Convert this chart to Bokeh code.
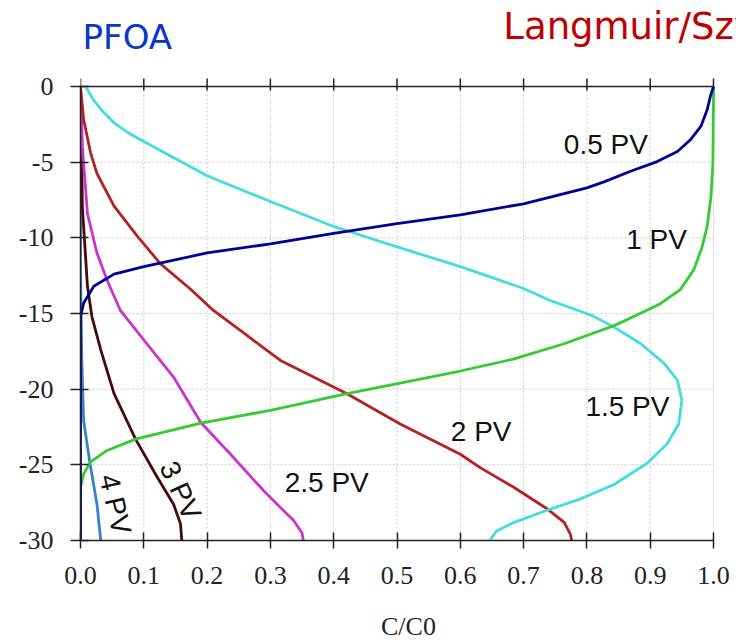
import math
from bokeh.plotting import figure
from bokeh.models import Range1d, FixedTicker, PrintfTickFormatter
from bokeh.core.properties import value
from bokeh.embed import file_html
from bokeh.resources import INLINE

# ---- data: C/C0 (x) versus depth (y) for each pore volume ----
pv05_x = [1.0, 0.995, 0.99, 0.98, 0.964, 0.943, 0.911, 0.869, 0.827, 0.80, 0.70, 0.60, 0.50, 0.40, 0.30, 0.20, 0.10, 0.053, 0.021, 0.005, 0.0, 0.0]
pv05_y = [0.0, -0.66, -1.54, -2.64, -3.5, -4.3, -4.96, -5.6, -6.3, -6.7, -7.75, -8.48, -9.06, -9.7, -10.4, -11.0, -11.9, -12.4, -13.2, -14.3, -15.2, -30.0]

pv1_x = [1.0, 1.0, 0.999, 0.996, 0.99, 0.982, 0.969, 0.948, 0.916, 0.874, 0.843, 0.764, 0.685, 0.60, 0.505, 0.421, 0.30, 0.19, 0.087, 0.042, 0.016, 0.005, 0.0, 0.0]
pv1_y = [0.0, -0.9, -5.07, -7.27, -9.25, -10.6, -12.1, -13.4, -14.35, -15.2, -15.8, -17.0, -18.0, -18.8, -19.6, -20.3, -21.4, -22.25, -23.3, -24.05, -24.8, -25.6, -26.5, -30.0]

pv15_x = [0.008, 0.02, 0.032, 0.053, 0.075, 0.10, 0.20, 0.30, 0.40, 0.50, 0.60, 0.70, 0.742, 0.806, 0.843, 0.885, 0.922, 0.943, 0.950, 0.945, 0.927, 0.895, 0.843, 0.79, 0.737, 0.685, 0.658, 0.648, 0.648]
pv15_y = [0.0, -0.85, -1.5, -2.4, -3.05, -3.64, -5.9, -7.6, -9.25, -10.6, -11.9, -13.35, -14.14, -15.1, -15.9, -17.0, -18.3, -19.4, -20.75, -22.3, -23.6, -24.9, -26.3, -27.25, -28.0, -28.8, -29.35, -29.9, -30.0]

pv2_x = [0.0, 0.005, 0.016, 0.026, 0.053, 0.09, 0.126, 0.174, 0.21, 0.263, 0.316, 0.421, 0.505, 0.60, 0.632, 0.685, 0.737, 0.764, 0.774, 0.776]
pv2_y = [0.0, -2.2, -4.4, -5.75, -7.9, -9.9, -11.7, -13.4, -14.8, -16.45, -18.1, -20.3, -22.3, -24.3, -25.2, -26.5, -27.9, -28.8, -29.6, -30.0]

pv25_x = [0.0, 0.003, 0.011, 0.026, 0.042, 0.063, 0.105, 0.147, 0.19, 0.237, 0.289, 0.337, 0.35, 0.352]
pv25_y = [0.0, -4.0, -8.4, -11.0, -12.8, -14.8, -17.0, -19.2, -22.2, -24.3, -26.7, -28.7, -29.5, -30.0]

pv3_x = [0.0, 0.003, 0.011, 0.018, 0.032, 0.053, 0.087, 0.121, 0.147, 0.158, 0.16]
pv3_y = [0.0, -8.0, -13.2, -15.2, -17.4, -20.3, -23.3, -25.8, -27.6, -28.9, -30.0]

pv4_x = [0.0, 0.0, 0.002, 0.005, 0.015, 0.026, 0.032]
pv4_y = [0.0, -12.0, -18.0, -22.1, -24.9, -27.6, -30.0]

curve_labels = ["0.5 PV", "1 PV", "1.5 PV", "2 PV", "2.5 PV", "3 PV", "4 PV"]
label_x = [0.830, 0.910, 0.864, 0.633, 0.389, 0.158, 0.055]
label_y = [-3.8, -10.1, -21.15, -22.8, -26.2, -26.7, -27.6]
label_angle_deg = [0, 0, 0, 0, 0, -65, -77]

x_ticks = [0.0, 0.1, 0.2, 0.3, 0.4, 0.5, 0.6, 0.7, 0.8, 0.9, 1.0]
y_ticks = [-30, -25, -20, -15, -10, -5, 0]

titles = ["PFOA", "Langmuir/Szyszkowski"]
title_x = [0.074, 0.668]
title_y = [3.25, 3.97]
title_align = ["center", "left"]
title_size = ["34px", "37px"]
title_colors = ["#0a35cc", "#c00000"]

colors = ["#000099", "#33cc33", "#44dddd", "#b22222", "#cc33cc", "#4a0808", "#3a80cc"]

# view extends beyond the data area so the titles fit inside the frame
PX_PER_X = 633.0
PX_PER_Y = 454.0 / 30.0
x_end = 1.0 + 23.0 / PX_PER_X
y_end = 86.0 / PX_PER_Y

p = figure(width=736, height=644, output_backend="svg", toolbar_location=None,
           x_range=Range1d(0, x_end), y_range=Range1d(-30, y_end),
           min_border_left=80, min_border_right=0, min_border_top=0, min_border_bottom=104,
           x_axis_label="C/C0")
p.outline_line_color = None
p.background_fill_color = "white"
p.xgrid.visible = False
p.ygrid.visible = False

xmin, xmax = min(x_ticks), max(x_ticks)
ymin, ymax = min(y_ticks), max(y_ticks)

# dotted grid restricted to the data area
p.segment(x0=x_ticks, y0=[ymin] * len(x_ticks), x1=x_ticks, y1=[ymax] * len(x_ticks),
          line_color="#c8c8c8", line_dash="2 2", line_width=1)
p.segment(x0=[xmin] * len(y_ticks), y0=y_ticks, x1=[xmax] * len(y_ticks), y1=y_ticks,
          line_color="#c8c8c8", line_dash="2 2", line_width=1)

def style_axis(ax, tick_in, tick_out):
    ax.axis_line_color = "#222222"
    ax.axis_line_width = 1.5
    ax.major_tick_line_color = "#222222"
    ax.major_tick_line_width = 1.5
    ax.major_tick_in = tick_in
    ax.major_tick_out = tick_out
    ax.minor_tick_line_color = None
    ax.major_label_text_font = "Liberation Serif"
    ax.major_label_text_font_size = "26px"
    ax.major_label_text_color = "#222222"

xa = p.xaxis[0]
xa.ticker = FixedTicker(ticks=x_ticks)
xa.formatter = PrintfTickFormatter(format="%.1f")
xa.bounds = (xmin, xmax)
style_axis(xa, 8, 8)
xa.major_label_standoff = 18
xa.axis_label_text_font = "Liberation Serif"
xa.axis_label_text_font_size = "26px"
xa.axis_label_text_font_style = "normal"
xa.axis_label_text_color = "#222222"
xa.axis_label_standoff = 25

ya = p.yaxis[0]
ya.ticker = FixedTicker(ticks=y_ticks)
ya.formatter = PrintfTickFormatter(format="%d")
ya.bounds = (ymin, ymax)
style_axis(ya, 8, 10)
ya.major_label_standoff = 17

# top axis line at depth 0 with crossing ticks
tick_up = 8.0 / PX_PER_Y
tick_down = 4.0 / PX_PER_Y
p.segment(x0=[xmin], y0=[ymax], x1=[xmax], y1=[ymax], line_color="#222222", line_width=1.5)
p.segment(x0=x_ticks, y0=[ymax + tick_up] * len(x_ticks), x1=x_ticks, y1=[ymax - tick_down] * len(x_ticks),
          line_color="#222222", line_width=1.5)

# curves
series = [(pv4_x, pv4_y), (pv3_x, pv3_y), (pv25_x, pv25_y), (pv2_x, pv2_y),
          (pv15_x, pv15_y), (pv1_x, pv1_y), (pv05_x, pv05_y)]
series_colors = [colors[6], colors[5], colors[4], colors[3], colors[2], colors[1], colors[0]]
for (xs, ys), c in zip(series, series_colors):
    p.line(xs, ys, line_color=c, line_width=2.8, line_join="round")

p.text(x=label_x, y=label_y, text=curve_labels,
       angle=[math.radians(a) for a in label_angle_deg],
       text_font=value("Liberation Sans"), text_font_size="28px",
       text_align="center", text_baseline="middle", text_color="#111111")

# titles
for t, tx, ty, ta, ts, tc in zip(titles, title_x, title_y, title_align, title_size, title_colors):
    p.text(x=[tx], y=[ty], text=[t], text_align=ta, text_baseline="middle",
           text_font=value("DejaVu Sans"), text_font_size=ts, text_color=tc)

open("out.html", "w").write(file_html(p, INLINE))
